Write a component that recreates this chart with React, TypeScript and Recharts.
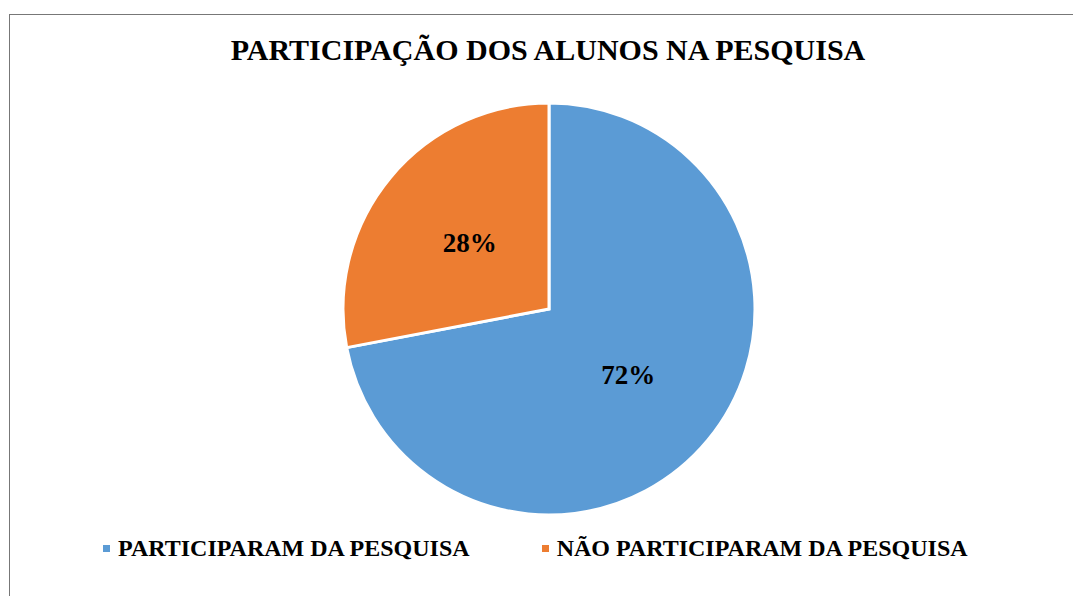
import { PieChart, Pie, Cell, Legend } from 'recharts'

const categories = ['PARTICIPARAM DA PESQUISA', 'NÃO PARTICIPARAM DA PESQUISA']
const shares = [72, 28]
const colors = ['#5B9BD5', '#ED7D31']

const data = categories.map((name, i) => ({ name, value: shares[i] }))

const font = '"Liberation Serif", "Times New Roman", serif'
const RAD = Math.PI / 180

const renderLabel = (p: any) => {
  const r = p.outerRadius * 0.5
  const x = p.cx + r * Math.cos(-p.midAngle * RAD)
  const y = p.cy + r * Math.sin(-p.midAngle * RAD)
  return (
    <text x={x} y={y} textAnchor="middle" dominantBaseline="central"
      fontFamily={font} fontWeight="bold" fontSize={27} fill="#000">
      {Math.round(p.percent * 100)}%
    </text>
  )
}

const renderLegend = () => (
  <div style={{ display: 'flex', gap: 72, fontFamily: font, fontWeight: 'bold', fontSize: 24, color: '#000' }}>
    {data.map((d, i) => (
      <div key={d.name} style={{ display: 'flex', alignItems: 'center' }}>
        <span style={{ width: 7, height: 7, background: colors[i], marginRight: 8, display: 'inline-block' }} />
        <span>{d.name}</span>
      </div>
    ))}
  </div>
)

export default function App() {
  return (
    <div style={{ position: 'absolute', left: 0, top: 0, width: 1073, height: 596, background: '#fff' }}>
      <div style={{ position: 'absolute', left: 9, top: 14, right: 0, bottom: 0, borderLeft: '1.5px solid #777', borderTop: '1.5px solid #777' }} />
      <div style={{ position: 'absolute', left: 0, width: 1096, top: 33, textAlign: 'center', fontFamily: font, fontWeight: 'bold', fontSize: 30, color: '#000' }}>
        PARTICIPAÇÃO DOS ALUNOS NA PESQUISA
      </div>
      <PieChart width={1073} height={596} style={{ position: 'absolute', left: 0, top: 0 }}>
        <Pie
          data={data}
          dataKey="value"
          nameKey="name"
          cx={544}
          cy={304}
          outerRadius={206}
          startAngle={90}
          endAngle={-270}
          stroke="#fff"
          strokeWidth={3}
          label={renderLabel}
          labelLine={false}
          isAnimationActive={false}
        >
          {data.map((d, i) => <Cell key={d.name} fill={colors[i]} />)}
        </Pie>
        <Legend content={renderLegend} wrapperStyle={{ left: 103, top: 535, width: 'auto' }} />
      </PieChart>
    </div>
  )
}
